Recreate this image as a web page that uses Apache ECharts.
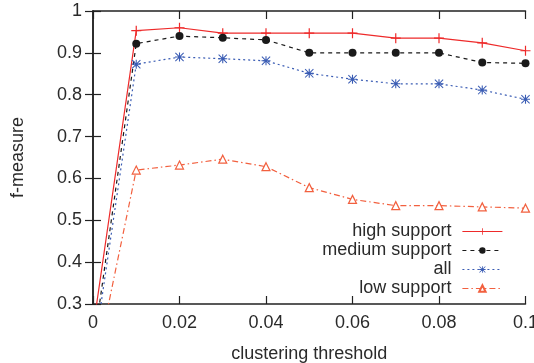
<!DOCTYPE html>
<html>
<head>
<meta charset="utf-8">
<script src="https://cdn.jsdelivr.net/npm/echarts@6/dist/echarts.min.js"></script>
<style>
  html, body { margin: 0; padding: 0; background: #fff; }
  #chart { width: 534px; height: 363px; }
</style>
</head>
<body>
<div id="chart"></div>
<script>
// clustering thresholds (x)
const thresholds = [0, 0.01, 0.02, 0.03, 0.04, 0.05, 0.06, 0.07, 0.08, 0.09, 0.1];

// f-measure per series
const highSupport = [0.24, 0.953, 0.960, 0.947, 0.947, 0.947, 0.947, 0.935, 0.935, 0.924, 0.905];
const mediumSupport = [0.19, 0.922, 0.940, 0.936, 0.931, 0.900, 0.900, 0.900, 0.900, 0.877, 0.875];
const allSupport = [0.17, 0.873, 0.890, 0.886, 0.881, 0.851, 0.837, 0.826, 0.826, 0.811, 0.789];
const lowSupport = [0.12, 0.620, 0.632, 0.646, 0.628, 0.578, 0.550, 0.535, 0.535, 0.532, 0.529];

const seriesNames = ['high support', 'medium support', 'all', 'low support'];

const FONT = 'Liberation Sans, Arial, sans-serif';
const AXIS_COLOR = '#222';
const TEXT_COLOR = '#2a2a2a';

const PLUS = 'path://M4.4,0H5.6V4.4H10V5.6H5.6V10H4.4V5.6H0V4.4H4.4Z';
const STAR = 'path://M4.4,0H5.6V4.4H10V5.6H5.6V10H4.4V5.6H0V4.4H4.4Z' +
    'M0.8,0L10,9.2L9.2,10L0,0.8Z M9.2,0L10,0.8L0.8,10L0,9.2Z';

function pairs(values) {
    return thresholds.map((x, i) => [x, values[i]]);
}

function lineSeries(name, values, color, dash, symbol, size, fill) {
    return {
        name,
        type: 'line',
        data: pairs(values),
        symbol,
        symbolSize: size,
        showSymbol: true,
        clip: true,
        animation: false,
        itemStyle: {
            color: fill || color,
            borderColor: color,
            borderWidth: fill ? 1.2 : 0,
        },
        lineStyle: {
            color,
            width: 1.2,
            type: dash,
        },
        emphasis: { disabled: true },
    };
}

const chart = echarts.init(document.getElementById('chart'));

const tickStyle = { show: true, inside: true, length: 8, lineStyle: { color: AXIS_COLOR, width: 1.2 } };
const lineStyle = { show: true, lineStyle: { color: AXIS_COLOR, width: 1.5 } };

const option = {
    backgroundColor: '#fff',
    textStyle: { fontFamily: FONT },
    grid: {
        left: 93,
        right: 8.5,
        top: 11,
        bottom: 59,
        outerBoundsMode: 'none',
        containLabel: false,
    },
    legend: {
        orient: 'vertical',
        right: 31,
        top: 222,
        align: 'right',
        itemWidth: 40,
        itemHeight: 8,
        itemGap: 0,
        padding: 0,
        selectedMode: false,
        data: seriesNames,
        lineStyle: { width: 1.2 },
        textStyle: {
            fontFamily: FONT,
            fontSize: 18,
            color: TEXT_COLOR,
            lineHeight: 19,
            padding: [0, 6, 0, 0],
        },
    },
    xAxis: [
        {
            type: 'value',
            min: 0,
            max: 0.1,
            interval: 0.02,
            name: 'clustering threshold',
            nameLocation: 'middle',
            nameGap: 41,
            nameTextStyle: { fontFamily: FONT, fontSize: 18, color: TEXT_COLOR },
            axisLine: lineStyle,
            axisTick: tickStyle,
            axisLabel: {
                fontFamily: FONT,
                fontSize: 18,
                color: TEXT_COLOR,
                margin: 10,
                hideOverlap: false,
                formatter: (v) => (v === 0 ? '0' : String(+v.toFixed(2))),
            },
            splitLine: { show: false },
        },
        {
            type: 'value',
            position: 'top',
            min: 0,
            max: 0.1,
            interval: 0.02,
            axisLine: lineStyle,
            axisTick: tickStyle,
            axisLabel: { show: false },
            splitLine: { show: false },
        },
    ],
    yAxis: [
        {
            type: 'value',
            min: 0.3,
            max: 1,
            interval: 0.1,
            name: 'f-measure',
            nameLocation: 'middle',
            nameGap: 66,
            nameTextStyle: { fontFamily: FONT, fontSize: 18, color: TEXT_COLOR },
            axisLine: lineStyle,
            axisTick: tickStyle,
            axisLabel: {
                fontFamily: FONT,
                fontSize: 18,
                color: TEXT_COLOR,
                margin: 11,
                formatter: (v) => String(+v.toFixed(1)),
            },
            splitLine: { show: false },
        },
        {
            type: 'value',
            position: 'right',
            min: 0.3,
            max: 1,
            interval: 0.1,
            axisLine: lineStyle,
            axisTick: tickStyle,
            axisLabel: { show: false },
            splitLine: { show: false },
        },
    ],
    series: [
        lineSeries(seriesNames[0], highSupport, '#ee2a2a', 'solid', PLUS, 10),
        lineSeries(seriesNames[1], mediumSupport, '#1a1a1a', [4, 4], 'circle', 8),
        lineSeries(seriesNames[2], allSupport, '#3a5cb4', [2, 3], STAR, 9),
        lineSeries(seriesNames[3], lowSupport, '#f2603f', [6, 3, 1.5, 3], 'triangle', 8, '#fff'),
    ],
};

chart.setOption(option);
</script>
</body>
</html>
